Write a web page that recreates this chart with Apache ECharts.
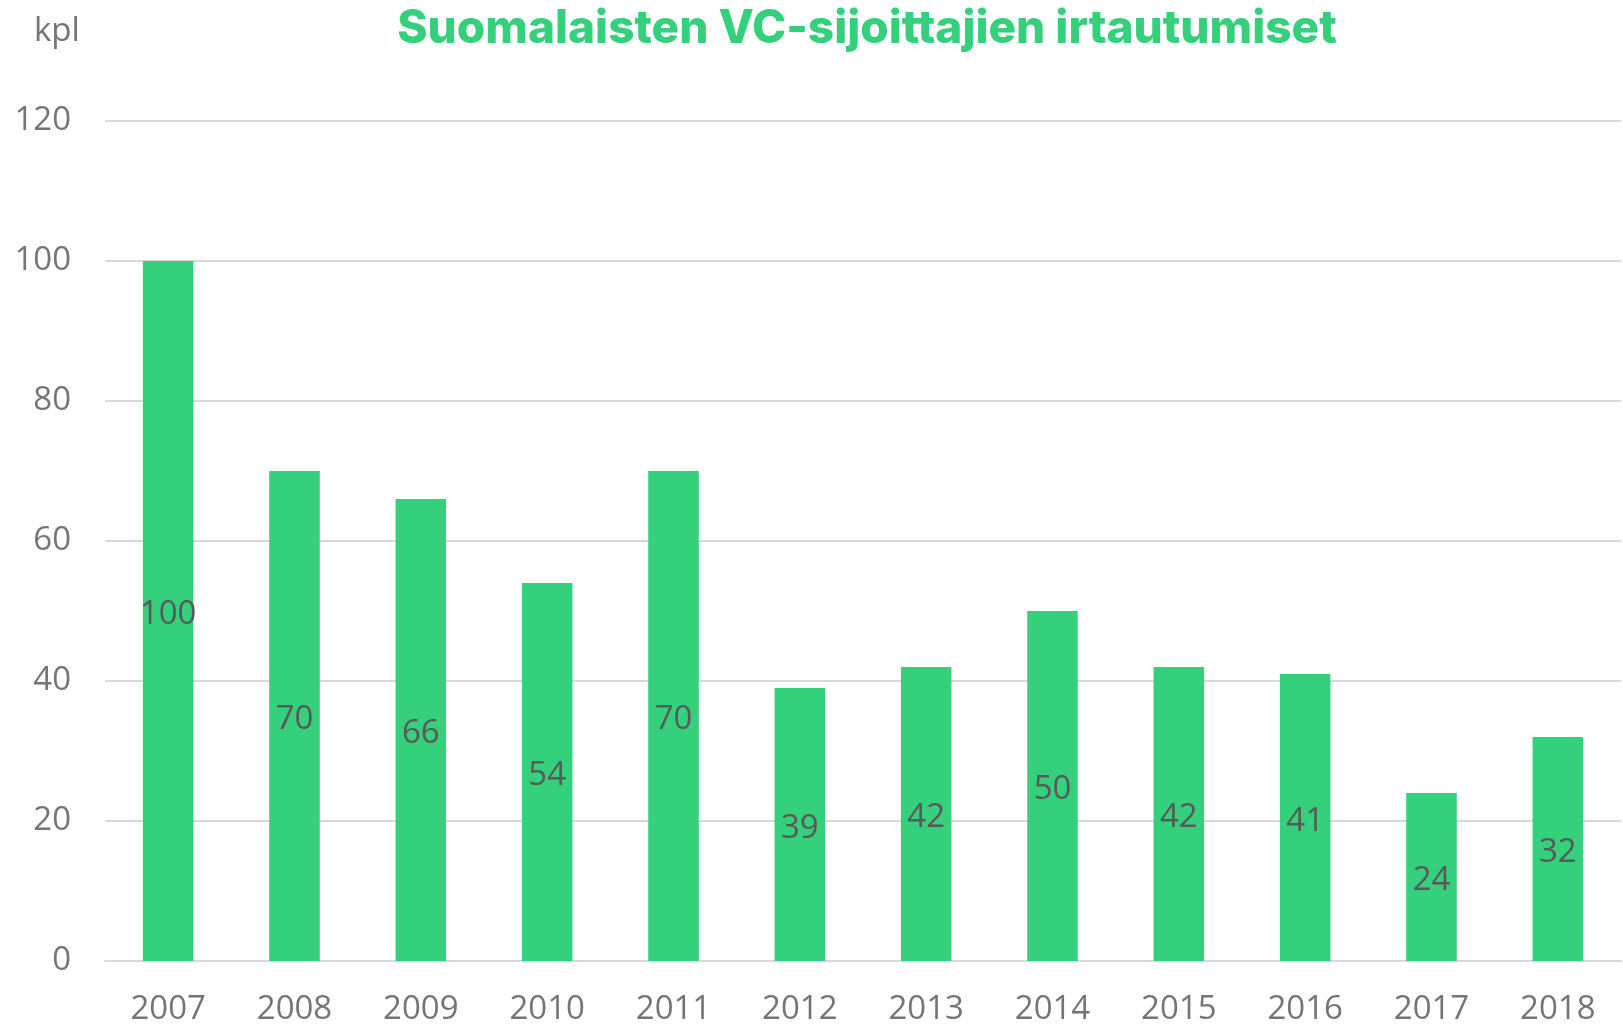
<!DOCTYPE html>
<html>
<head>
<meta charset="utf-8">
<script src="https://cdn.jsdelivr.net/npm/echarts@6/dist/echarts.min.js"></script>
<style>
    html, body { margin: 0; padding: 0; background: #fff; }
    #chart { width: 1623px; height: 1025px; }
</style>
</head>
<body>
<div id="chart"></div>
<script>
const barColor = '#35D07B';
const tickColor = '#757575';
const labelColor = '#595959';

const years = ['2007', '2008', '2009', '2010', '2011', '2012', '2013', '2014', '2015', '2016', '2017', '2018'];
const exits = [100, 70, 66, 54, 70, 39, 42, 50, 42, 41, 24, 32];
const yTicks = [0, 20, 40, 60, 80, 100, 120];

const chart = echarts.init(document.getElementById('chart'));

const option = {
    animation: false,
    title: [{
        text: 'Suomalaisten VC-sijoittajien irtautumiset',
        left: 862,
        top: 1,
        textAlign: 'center',
        textStyle: {
            color: barColor,
            fontFamily: 'Inter',
            fontWeight: 800,
            fontSize: 46
        }
    }, {
        text: 'kpl',
        left: 29,
        top: 10,
        textStyle: {
            color: tickColor,
            fontFamily: 'Open Sans',
            fontWeight: 'normal',
            fontSize: 33
        }
    }],
    grid: {
        left: 105,
        right: 2,
        top: 121,
        bottom: 64,
        containLabel: false,
        outerBoundsMode: 'none'
    },
    xAxis: {
        type: 'category',
        data: years,
        axisLine: {
            lineStyle: { color: '#d9d9d9', width: 2 }
        },
        axisTick: { show: false },
        axisLabel: {
            color: tickColor,
            fontFamily: 'Open Sans',
            fontSize: 33,
            margin: 32
        }
    },
    yAxis: {
        type: 'value',
        min: yTicks[0],
        max: yTicks[yTicks.length - 1],
        interval: 20,
        axisLine: { show: false },
        axisTick: { show: false },
        splitLine: {
            lineStyle: { color: '#d9d9d9', width: 2 }
        },
        axisLabel: {
            color: tickColor,
            fontFamily: 'Open Sans',
            fontSize: 33,
            margin: 34
        }
    },
    series: [{
        type: 'bar',
        data: exits,
        barWidth: '40%',
        itemStyle: { color: barColor },
        label: {
            show: true,
            position: 'inside',
            offset: [0, 4],
            color: labelColor,
            fontFamily: 'Open Sans',
            fontSize: 33
        }
    }]
};
chart.setOption(option);

window.addEventListener('resize', function () {
    chart.resize();
});
</script>
</body>
</html>
